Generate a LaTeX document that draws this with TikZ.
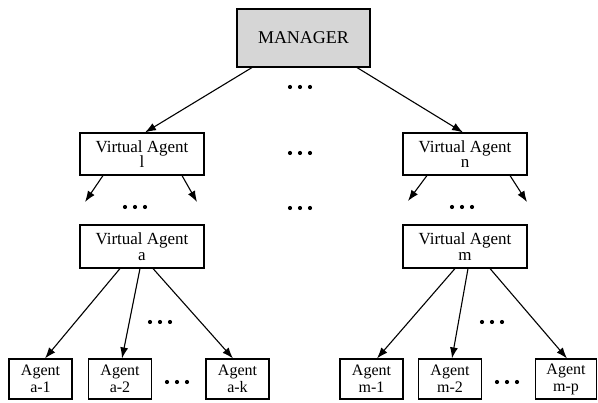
\documentclass[tikz,border=0pt]{standalone}
\usepackage{fontspec}
\setmainfont{Liberation Serif}
\usetikzlibrary{arrows.meta}
\definecolor{hopxam}{gray}{0.84}

\begin{document}
\begin{tikzpicture}[x=1pt,y=-1pt,line width=1.1pt,
		hop/.style={draw,rectangle,align=center,inner sep=0pt,minimum height=42pt,minimum width=124pt,font=\fontsize{17}{15.5}\selectfont},
		tacnhan/.style={draw,rectangle,align=center,inner sep=0pt,minimum height=40pt,minimum width=63pt,font=\fontsize{16}{17}\selectfont},
		muiten/.style={-{Latex[length=11pt,width=8pt]}}]
			\useasboundingbox (0,0) rectangle (598,403);
			\node[hop,fill=hopxam,minimum width=133pt,minimum height=58pt,font=\fontsize{18}{18}\selectfont] (man) at (303.5,38) {MANAGER};
			\node[hop] (val) at (142,154) {Virtual Agent\\l};
			\node[hop] (van) at (465,154) {Virtual Agent\\n};
			\node[hop,minimum height=43pt] (vaa) at (142,246.5) {Virtual Agent\\a};
			\node[hop,minimum height=43pt] (vam) at (465,246.5) {Virtual Agent\\m};
			\node[tacnhan] (a1) at (40.5,379) {Agent\\a-1};
			\node[tacnhan] (a2) at (120,379) {Agent\\a-2};
			\node[tacnhan] (ak) at (237.5,379) {Agent\\a-k};
			\node[tacnhan] (m1) at (371.5,379) {Agent\\m-1};
			\node[tacnhan] (m2) at (450,379) {Agent\\m-2};
			\node[tacnhan,minimum width=61pt] (mp) at (566,379) {Agent\\m-p};
			\coordinate (l1) at (85,202);
			\coordinate (l2) at (197,202);
			\coordinate (n1) at (408,201);
			\coordinate (n2) at (527,202);
			\draw[muiten] ([xshift=-51.5pt]man.south) -- ([xshift=3pt]val.north);
			\draw[muiten] ([xshift=53.5pt]man.south) -- ([xshift=-2pt]van.north);
			\draw[muiten] ([xshift=-39pt]val.south) -- (l1);
			\draw[muiten] ([xshift=40pt]val.south) -- (l2);
			\draw[muiten] ([xshift=-38pt]van.south) -- (n1);
			\draw[muiten] ([xshift=45pt]van.south) -- (n2);
			\draw[muiten] ([xshift=-22pt]vaa.south) -- ([xshift=4.5pt]a1.north);
			\draw[muiten] ([xshift=-2pt]vaa.south) -- ([xshift=2pt]a2.north);
			\draw[muiten] ([xshift=11pt]vaa.south) -- ([xshift=-4.5pt]ak.north);
			\draw[muiten] ([xshift=-10pt]vam.south) -- ([xshift=5.5pt]m1.north);
			\draw[muiten] ([xshift=3pt]vam.south) -- ([xshift=2pt]m2.north);
			\draw[muiten] ([xshift=25pt]vam.south) -- ([xshift=1pt]mp.north);
%			ba cham
			\foreach \x/\y in {300/87,300/153,300/208,135/207,462/207,160/322,492/322,177/382,507/382}
				\foreach \d in {-10,0,10}
					\fill (\x+\d,\y) circle (2.1pt);
		\end{tikzpicture}
\end{document}
